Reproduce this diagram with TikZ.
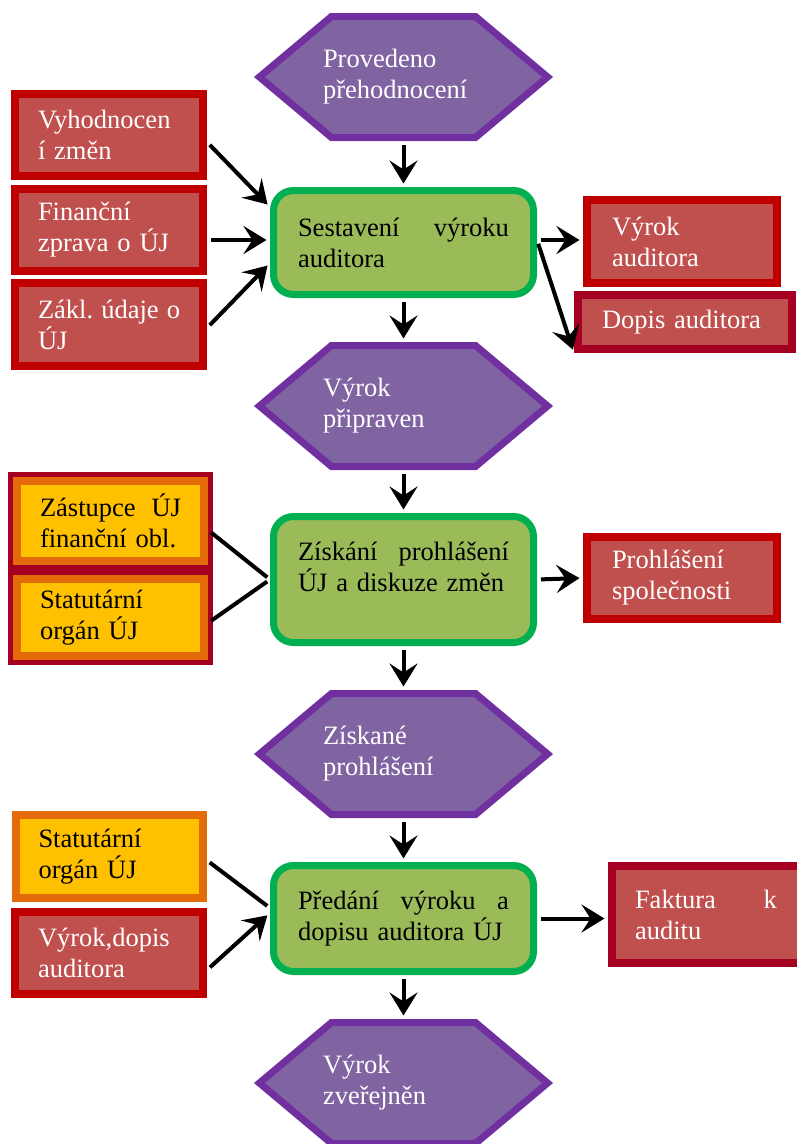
\documentclass[tikz,border=0pt]{standalone}
\usepackage{fontspec}
\setmainfont{Liberation Serif}
\usetikzlibrary{arrows.meta,positioning,shapes.symbols}

\definecolor{hexfill}{HTML}{8064A2}
\definecolor{hexline}{HTML}{7030A0}
\definecolor{actfill}{HTML}{9BBB59}
\definecolor{actline}{HTML}{00B050}
\definecolor{docfill}{HTML}{C0504D}
\definecolor{docline}{HTML}{C00000}
\definecolor{darkline}{HTML}{A50021}
\definecolor{perfill}{HTML}{FFC000}
\definecolor{perline}{HTML}{E36C09}

\newcommand{\jline}[1]{\leavevmode\hbox to\hsize{#1}}

\tikzset{
  txt/.style={font=\fontsize{26.5}{31}\selectfont, align=left},
  state/.style={txt, signal, signal to=east and west, signal pointer angle=80,
    draw=hexline, fill=hexfill, line width=7pt, text=white,
    minimum width=274pt, minimum height=121pt, text width=161pt,
    inner xsep=-8.5pt, inner ysep=0pt},
  act/.style={txt, draw=actline, fill=actfill, line width=7pt, rounded corners=20pt,
    text width=211pt, inner xsep=24.5pt},
  doc/.style={txt, draw=docline, fill=docfill, line width=8pt, text=white,
    text width=142pt, inner xsep=23pt},
  per/.style={txt, draw=perline, fill=perfill, line width=8pt,
    text width=141pt, inner xsep=23pt},
  conn/.style={line width=4pt, shorten <=4pt, shorten >=3.5pt},
  flow/.style={conn, -{Stealth[length=23pt,width=28pt,inset=9pt]}}
}

\begin{document}
\begin{tikzpicture}[x=1pt,y=-1pt]
\useasboundingbox (0,0) rectangle (796,1144);

\node[state] (prov) at (403.5,77) {Provedeno\\přehodnocení};
\node[act, minimum height=104pt] (sest) at (403.5,242.5) {\jline{Sestavení\hfill výroku}\\auditora};
\node[state] (pripr) at (403.5,406) {Výrok\\připraven};
\node[act, minimum height=126pt] (zisk) at (403.5,579.5) {\jline{Získání\hfill prohlášení}\\ÚJ a diskuze změn\\[-5pt]\mbox{}};
\node[state] (ziskane) at (403.5,754) {Získané\\prohlášení};
\node[act, minimum height=106pt] (pred) at (403.5,918.5) {\jline{Předání\hfill výroku\hfill a}\\dopisu auditora ÚJ};
\node[state] (zver) at (403.5,1083) {Výrok\\zveřejněn};

\node[doc, minimum height=82pt] (vyhod) at (109,135) {Vyhodnocen\\í změn};
\node[doc, minimum height=82pt] (fin) at (109,230) {Finanční\\zprava o ÚJ};
\node[doc, minimum height=83pt] (zakl) at (109,324.5) {\jline{Zákl.\hfill údaje\hfill o}\\ÚJ};
\node[doc, minimum height=83pt, text width=140pt, inner xsep=25pt] (vyrok) at (682,241.5) {Výrok\\auditora};
\node[doc, draw=darkline, minimum height=54pt, text width=166pt, inner xsep=24pt] (dopis) at (685,322) {Dopis auditora};

\node[per, preaction={draw=darkline, line width=18pt}, minimum height=80pt] (zast) at (110.5,521) {\jline{Zástupce\hfill ÚJ}\\finanční obl.};
\node[per, preaction={draw=darkline, line width=18pt}, minimum height=77pt] (stat1) at (110.5,617.5) {Statutární\\orgán ÚJ};
\node[doc, minimum height=82pt, text width=140pt, inner xsep=25pt] (prohl) at (682,578) {Prohlášení\\společnosti};

\node[per, minimum height=83pt] (stat2) at (109,856.5) {Statutární\\orgán ÚJ};
\node[doc, minimum height=82pt] (vyrdop) at (109,953) {Výrok,dopis\\auditora};
\node[doc, draw=darkline, minimum height=97pt, text width=152pt] (fakt) at (711,914.5) {\leavevmode\hbox to142pt{Faktura\hfill k}\\auditu};

\foreach \a/\b in {prov/sest, sest/pripr, pripr/zisk, zisk/ziskane, ziskane/pred, pred/zver}
  \draw[flow] (\a.south) -- (\b.north);

\draw[flow] ([yshift=-7pt]vyhod.east) -- ([yshift=35.5pt]sest.west);
\draw[flow] ([yshift=-10pt]fin.east) -- ([yshift=2.5pt]sest.west);
\draw[flow] ([yshift=-3.5pt]zakl.east) -- ([yshift=-20.5pt]sest.west);
\draw[flow] ([yshift=2.5pt]sest.east) -- ([yshift=1.5pt]vyrok.west);
\draw[flow] ([yshift=2.5pt]sest.east) -- (dopis.south west);

\draw[conn] ([yshift=-9pt]zast.east) -- (zisk.west);
\draw[conn] ([yshift=-5.5pt]stat1.east) -- (zisk.west);
\draw[flow] (zisk.east) -- (prohl.west);

\draw[conn] ([yshift=-3.5pt]stat2.east) -- ([yshift=10.5pt]pred.west);
\draw[flow] ([yshift=-17pt]vyrdop.east) -- ([yshift=5.5pt]pred.west);
\draw[flow] (pred.east) -- (pred.east -| fakt.west);
\end{tikzpicture}
\end{document}
